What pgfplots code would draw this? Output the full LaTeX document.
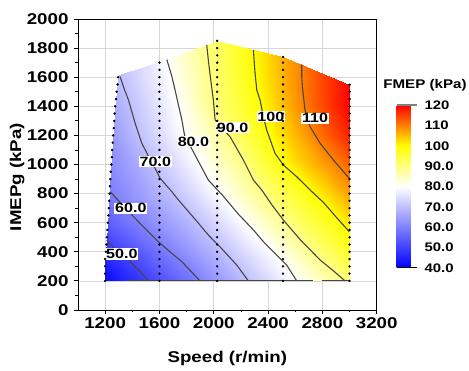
\documentclass[border=0pt]{standalone}
\usepackage{fontspec}
\setmainfont{Liberation Sans}[FakeStretch=1.2]
\usepackage{pgfplots}
\usepackage{pgfplotstable}
\pgfplotsset{compat=1.18}

\definecolor{cline}{RGB}{70,70,70}
\definecolor{gridgray}{RGB}{215,215,215}

\tikzset{
  clabel/.style={fill=white, inner sep=0.8pt, font=\bfseries\fontsize{13.4}{14}\selectfont},
  cont/.style={cline, line width=1.1pt},
  pts/.style={only marks, mark=*, mark size=1pt, black},
}

% FMEP (kPa) over speed (r/min) and IMEPg (kPa)
\pgfplotstableread{
s i f
1200 200 41.2
1400 200 46.9
1600 200 52.1
1800 200 57.4
2000 200 62.9
2200 200 68.5
2400 200 74.1
2600 200 79.7
2800 200 85.3
3000 200 90.9
1200 400 47.2
1400 400 52.5
1600 400 57.9
1800 400 63.1
2000 400 68.3
2200 400 73.6
2400 400 78.9
2600 400 85.0
2800 400 91.2
3000 400 97.0
1200 600 54.3
1400 600 58.8
1600 600 63.4
1800 600 68.0
2000 600 73.3
2200 600 79.1
2400 600 85.2
2600 600 91.2
2800 600 96.4
3000 600 101.9
1200 800 58.9
1400 800 63.3
1600 800 67.8
1800 800 72.9
2000 800 78.7
2200 800 84.7
2400 800 90.7
2600 800 96.1
2800 800 101.6
3000 800 107.5
1200 1000 61.0
1400 1000 65.6
1600 1000 71.4
1800 1000 77.1
2000 1000 83.0
2200 1000 89.0
2400 1000 96.0
2600 1000 102.3
2800 1000 107.3
3000 1000 112.3
1200 1200 62.5
1400 1200 68.5
1600 1200 74.5
1800 1200 80.5
2000 1200 86.6
2200 1200 92.9
2400 1200 99.5
2600 1200 105.5
2800 1200 111.6
3000 1200 117.6
1200 1400 64.8
1400 1400 70.4
1600 1400 76.0
1800 1400 82.2
2000 1400 90.0
2200 1400 95.7
2400 1400 101.6
2600 1400 107.9
2800 1400 114.2
3000 1400 120.0
1200 1600 67.1
1400 1600 72.3
1600 1600 77.6
1800 1600 83.9
2000 1600 90.8
2200 1600 96.8
2400 1600 102.7
2600 1600 108.6
2800 1600 114.5
3000 1600 120.0
1200 1800 68.0
1400 1800 72.6
1600 1800 79.0
1800 1800 85.3
2000 1800 91.5
2200 1800 97.4
2400 1800 103.1
2600 1800 108.9
2800 1800 114.6
3000 1800 120.0
1200 1900 68.5
1400 1900 73.0
1600 1900 79.5
1800 1900 85.9
2000 1900 92.0
2200 1900 97.7
2400 1900 103.3
2600 1900 109.0
2800 1900 114.7
3000 1900 120.0
}\fmepgrid

\begin{document}
\begin{tikzpicture}
\useasboundingbox (-78pt,-61pt) rectangle (391pt,310pt);
\begin{axis}[
  at={(0pt,0pt)}, anchor=south west,
  scale only axis, width=298.7pt, height=291pt,
  xmin=1000, xmax=3200, ymin=0, ymax=2000,
  xtick={1200,1600,...,3200}, ytick={0,200,...,2000},
  minor x tick num=1, minor y tick num=1,
  tick align=outside, xtick pos=bottom, ytick pos=left,
  major tick length=4pt, minor tick length=2.5pt,
  tick style={black, line width=0.8pt},
  grid=major, major grid style={gridgray, line width=0.6pt},
  axis line style={black, line width=0.9pt},
  colormap={fmep}{rgb255(0cm)=(0,0,255); rgb255(4cm)=(255,255,255); rgb255(6cm)=(255,255,0); rgb255(8cm)=(255,0,0)},
  point meta min=40, point meta max=120,
  /pgf/number format/assume math mode=true,
  /pgf/number format/1000 sep={},
  ticklabel style={font=\bfseries\fontsize{15.6}{16}\selectfont},
  yticklabel style={xshift=-2pt},
  xlabel={Speed (r/min)}, ylabel={IMEPg (kPa)},
  label style={font=\bfseries\fontsize{15.6}{16}\selectfont},
  xlabel style={at={(axis description cs:0.5,-0.167)}, anchor=center},
  ylabel style={at={(axis description cs:-0.204,0.457)}, anchor=center, rotate=0},
  colorbar,
  colorbar style={
    at={(parent axis.south east)}, anchor=south west,
    xshift=11.3pt, yshift=42pt,
    scale only axis, width=20pt, height=163pt,
    ymin=40, ymax=120,
    ytick={40,50,...,120},
    yticklabels={40.0,50.0,60.0,70.0,80.0,90.0,100,110,120},
    major tick length=0pt, axis line style={draw=none},
    yticklabel style={font=\bfseries\fontsize{12.4}{13}\selectfont, xshift=4.5pt},
    after end axis/.code={
      \draw[gray, line width=1.6pt] (rel axis cs:0,1) -- (rel axis cs:1,1);
      \draw[black, line width=1pt] (rel axis cs:0,0) -- (rel axis cs:1,0);
    },
  },
]

% colour field, limited to the measured operating range
\begin{scope}
\clip (1200,200) -- (1200,350) -- (1212,480) -- (1225,665) -- (1237,890)
  -- (1245,1000) -- (1259,1200) -- (1274,1400) -- (1298,1615) -- (1600,1705)
  -- (2025,1850) -- (2510,1740) -- (3000,1548) -- (3000,200) -- cycle;
\addplot[surf, shader=interp, mesh/cols=10, mesh/ordering=x varies,
  point meta=explicit] table[x=s, y=i, meta=f] {\fmepgrid};
\end{scope}

% iso-FMEP lines
\addplot[cont] coordinates {(1212,481)(1260,430)(1323,385)(1396,321)(1460,262)(1519,200)};
\addplot[cont] coordinates {(1237,813)(1330,720)(1421,630)(1510,545)(1592,469)(1680,398)(1765,332)(1899,200)};
\addplot[cont] coordinates {(1310,1604)(1340,1520)(1372,1443)(1421,1283)(1470,1146)(1520,1055)(1568,974)(1605,905)(1691,813)(1740,756)(1875,610)(1960,515)(2060,420)(2169,309)(2255,200)};
\addplot[cont] coordinates {(1654,1722)(1690,1610)(1715,1512)(1742,1400)(1765,1306)(1785,1200)(1862,1065)(1960,893)(2063,790)(2180,660)(2292,550)(2365,470)(2450,390)(2537,309)(2611,200)};
\addplot[cont] coordinates {(1948,1822)(1962,1700)(1975,1600)(1997,1443)(2010,1306)(2060,1250)(2120,1191)(2218,1031)(2292,893)(2353,825)(2430,720)(2512,619)(2640,480)(2783,344)(2880,270)(2967,200)};
\addplot[cont] coordinates {(2292,1787)(2304,1627)(2317,1512)(2341,1443)(2365,1329)(2390,1237)(2451,1077)(2512,997)(2611,916)(2709,825)(2807,740)(2900,640)(2998,538)};
\addplot[cont] coordinates {(2648,1688)(2648,1600)(2655,1512)(2672,1375)(2709,1260)(2783,1146)(2881,1031)(2998,905)};
\addplot[cont] coordinates {(1362,200)(2731,200)};
\addplot[cont] coordinates {(2797,200)(3000,200)};

% measured operating points
\addplot[pts] coordinates {(1200,200)(1200,250)(1200,300)(1200,350)(1205,400)(1209,450)(1213,500)(1217,550)(1220,600)(1224,650)(1227,700)(1230,750)(1232,800)(1235,850)(1238,900)(1241,950)(1245,1000)(1249,1050)(1252,1100)(1256,1150)(1259,1200)(1263,1250)(1267,1300)(1270,1350)(1274,1400)(1280,1450)(1285,1500)(1291,1550)(1296,1600)};
\addplot[pts] coordinates {(1600,200)(1600,250)(1600,300)(1600,350)(1600,400)(1600,450)(1600,500)(1600,550)(1600,600)(1600,650)(1600,700)(1600,750)(1600,800)(1600,850)(1600,900)(1600,950)(1600,1000)(1600,1050)(1600,1100)(1600,1150)(1600,1200)(1600,1250)(1600,1300)(1600,1350)(1600,1400)(1600,1450)(1600,1500)(1600,1550)(1600,1600)(1600,1650)(1600,1700)};
\addplot[pts] coordinates {(2025,200)(2025,250)(2025,300)(2025,350)(2025,400)(2025,450)(2025,500)(2025,550)(2025,600)(2025,650)(2025,700)(2025,750)(2025,800)(2025,850)(2025,900)(2025,950)(2025,1000)(2025,1050)(2025,1100)(2025,1150)(2025,1200)(2025,1250)(2025,1300)(2025,1350)(2025,1400)(2025,1450)(2025,1500)(2025,1550)(2025,1600)(2025,1650)(2025,1700)(2025,1750)(2025,1800)(2025,1850)};
\addplot[pts] coordinates {(2510,200)(2510,250)(2510,300)(2510,350)(2510,400)(2510,450)(2510,500)(2510,550)(2510,600)(2510,650)(2510,700)(2510,750)(2510,800)(2510,850)(2510,900)(2510,950)(2510,1000)(2510,1050)(2510,1100)(2510,1150)(2510,1200)(2510,1250)(2510,1300)(2510,1350)(2510,1400)(2510,1450)(2510,1500)(2510,1550)(2510,1600)(2510,1650)(2510,1700)(2510,1740)};
\addplot[pts] coordinates {(3000,200)(3000,250)(3000,300)(3000,350)(3000,400)(3000,450)(3000,500)(3000,550)(3000,600)(3000,650)(3000,700)(3000,750)(3000,800)(3000,850)(3000,900)(3000,950)(3000,1000)(3000,1050)(3000,1100)(3000,1150)(3000,1200)(3000,1250)(3000,1300)(3000,1350)(3000,1400)(3000,1450)(3000,1500)(3000,1548)};

% contour level labels
\node[clabel] at (1323,385) {50.0};
\node[clabel] at (1389,699) {60.0};
\node[clabel] at (1570,1019) {70.0};
\node[clabel] at (1850,1157) {80.0};
\node[clabel] at (2139,1254) {90.0};
\node[clabel] at (2420,1329) {100};
\node[clabel] at (2746,1318) {110};
\end{axis}
\node[font=\bfseries\fontsize{12.6}{13}\selectfont] at (347pt,225pt) {FMEP (kPa)};
\end{tikzpicture}
\end{document}
